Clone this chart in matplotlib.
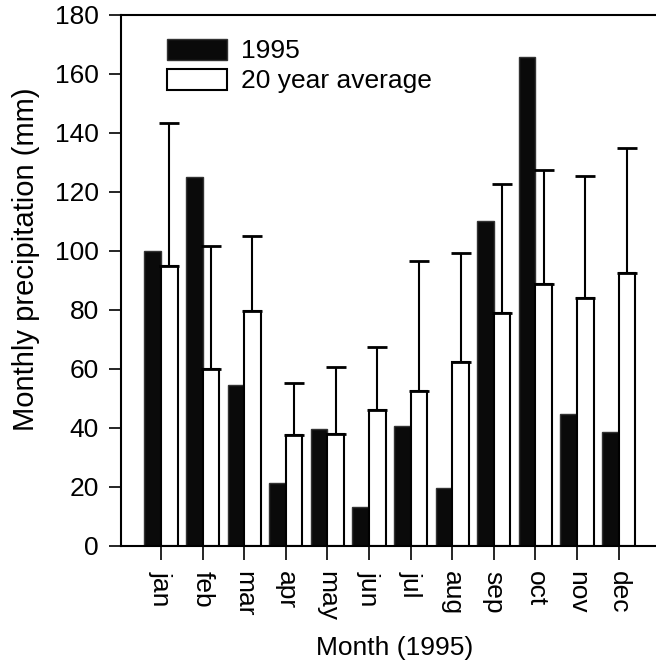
"""Monthly precipitation 1995 vs 20 year average."""

import numpy as np
import matplotlib
matplotlib.use("Agg")
import matplotlib.pyplot as plt

months = ["jan", "feb", "mar", "apr", "may", "jun",
          "jul", "aug", "sep", "oct", "nov", "dec"]
rain_1995 = [100.0, 125.0, 54.5, 21.3, 39.7, 13.3, 40.7, 19.6, 110.3, 165.7, 44.7, 38.7]
rain_avg = [95.0, 60.0, 79.7, 37.6, 38.0, 46.1, 52.4, 62.5, 79.0, 88.7, 84.0, 92.4]
avg_upper = [143.5, 101.6, 105.1, 55.4, 60.7, 67.6, 96.7, 99.4, 122.7, 127.4, 125.5, 135.0]

plt.rcParams["font.family"] = ["Liberation Sans", "DejaVu Sans"]
FS = 19

fig = plt.figure(figsize=(6.56, 6.66), dpi=100)
ax = fig.add_axes([0.1845, 0.1802, 0.8346, 0.7973])

x = np.arange(len(months))
err = np.array(avg_upper) - np.array(rain_avg)

ax.bar(x - 0.2, rain_1995, width=0.4, color="#0a0a0a", edgecolor="#333333",
       linewidth=1.0, label="1995")
ax.bar(x + 0.2, rain_avg, width=0.4, color="white", edgecolor="black",
       linewidth=1.5, label="20 year average")
ax.errorbar(x + 0.2, rain_avg, yerr=[np.zeros_like(err), err], fmt="none",
            ecolor="black", elinewidth=1.5, capsize=7, capthick=2)

ax.set_xlim(-0.96, 12.2)
ax.set_ylim(0, 180)
ax.set_yticks(np.arange(0, 181, 20))
ax.set_xticks(x)
ax.set_xticklabels(months, rotation=270, fontsize=FS)
ax.tick_params(axis="y", labelsize=FS, length=9, width=1.2, direction="out", pad=7)
ax.tick_params(axis="x", length=10, width=1.2, direction="out", pad=8)

for side in ["left", "bottom", "top"]:
    ax.spines[side].set_linewidth(1.5)
ax.spines["right"].set_visible(False)

ax.set_ylabel("Monthly precipitation (mm)", fontsize=21)
ax.yaxis.set_label_coords(-0.148, 0.54)
ax.set_xlabel("Month (1995)", fontsize=FS, labelpad=11)

ax.legend(loc="upper left", bbox_to_anchor=(0.04, 1.0), frameon=False,
          fontsize=FS, handlelength=2.3, handleheight=0.85, labelspacing=0.2,
          handletextpad=0.5)

fig.savefig("out.png", dpi=100)
